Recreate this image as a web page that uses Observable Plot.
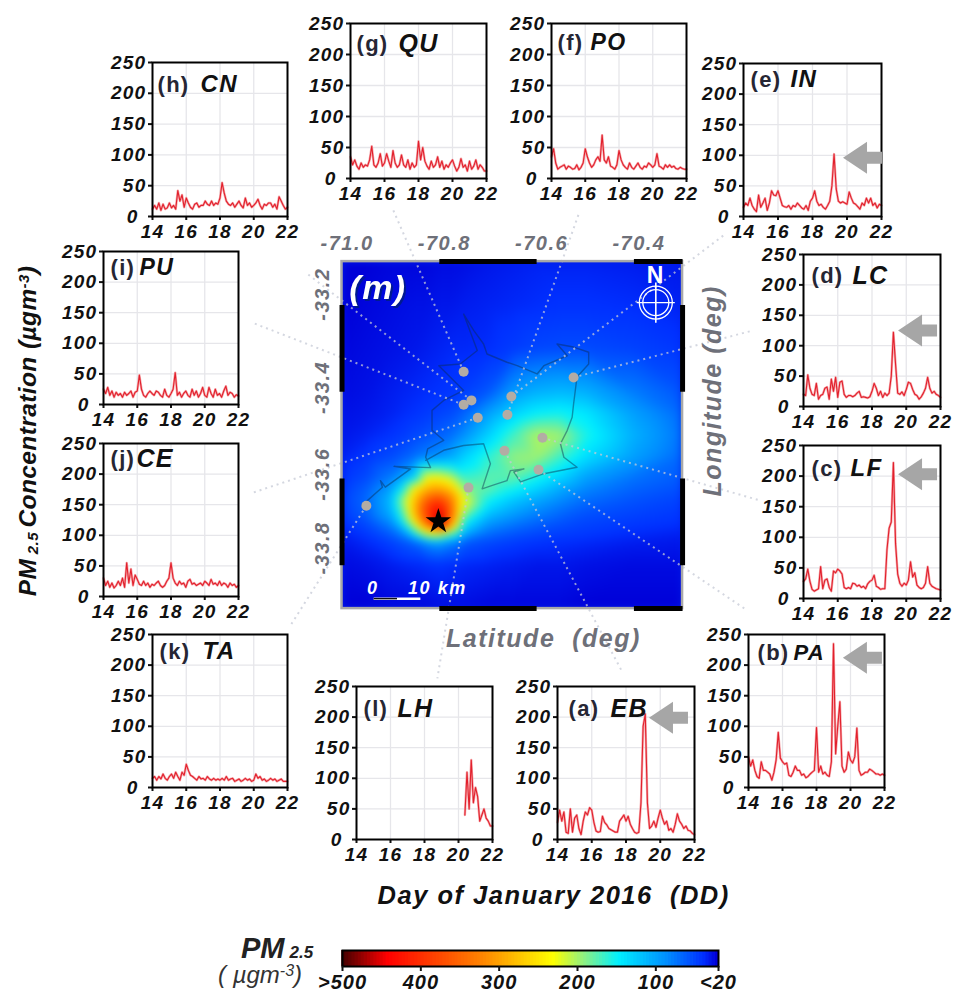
<!DOCTYPE html>
<html><head><meta charset="utf-8">
<script src="https://cdn.jsdelivr.net/npm/d3@7"></script>
<script src="https://cdn.jsdelivr.net/npm/@observablehq/plot@0.6"></script>
<style>
html,body{margin:0;padding:0;background:#fff;width:955px;height:995px;overflow:hidden}
#page{position:relative;width:955px;height:995px;font-family:"Liberation Sans",Arial,sans-serif}
#page svg{position:absolute;max-width:none}
.t{position:absolute;white-space:nowrap;font-weight:bold;font-style:italic;color:#111;line-height:1}
</style></head><body><div id="page"></div>
<script>
// ---- PM2.5 series, every 3 h from 14 Jan 00h to 22 Jan 00h ----
const seriesEB=[28,48,30,45,12,10,50,12, 35,40,18,8,30,45,40,52, 48,28,14,12,13,38,28,24, 18,16,14,12,12,30,35,40, 30,38,25,18,12,10,12,60, 185,205,60,18,22,30,20,35, 48,35,25,30,15,18,12,25, 42,30,25,18,22,15,14,10, 8];
const seriesPA=[50,35,45,28,18,15,42,28, 28,25,22,12,25,45,90,48, 42,38,40,20,18,25,35,28, 28,20,22,16,18,22,25,28, 98,25,35,22,25,20,18,42, 235,55,100,140,35,25,30,58, 45,40,50,97,28,20,22,25, 25,30,28,25,22,22,20,22, 20];
const seriesLF=[28,32,48,28,15,12,14,16, 52,16,30,32,18,12,45,42, 48,45,40,18,16,18,16,25, 24,20,22,18,20,16,24,28, 30,38,20,18,15,16,16,80, 115,125,222,90,40,25,20,25, 22,30,60,35,42,22,18,16, 18,25,52,25,20,18,16,15, 14];
const seriesLC=[20,18,52,30,20,18,38,12, 18,20,30,32,12,45,25,48, 15,40,42,20,15,18,18,16, 18,22,25,15,16,15,14,16, 25,38,30,18,25,15,22,18, 22,50,122,70,22,20,24,18, 28,40,38,28,20,18,12,16, 22,30,48,30,22,25,20,18, 15];
const seriesIN=[15,22,18,30,18,12,8,35, 15,22,30,10,22,42,35,34, 42,30,18,16,15,18,12,18, 16,22,18,14,12,18,10,25, 30,42,25,18,20,15,12,18, 25,50,102,45,25,22,24,22, 20,40,30,22,20,16,12,22, 18,30,22,30,18,22,14,20, 18];
const seriesPO=[35,48,25,15,18,20,22,15, 20,18,15,16,22,14,18,25, 48,35,25,18,22,30,35,28, 70,30,25,35,20,18,15,22, 45,30,22,18,15,25,18,15, 20,25,18,15,20,18,25,22, 18,22,40,20,18,15,22,18, 22,18,20,16,15,18,16,15, 15];
const seriesQU=[35,22,30,20,15,25,18,22, 20,30,52,22,18,25,40,20, 25,40,28,18,45,25,18,22, 38,22,18,30,15,25,18,22, 60,30,50,28,20,15,28,18, 22,35,18,28,15,22,18,25, 30,20,12,18,32,18,22,12, 28,15,20,30,15,22,18,12, 12];
const seriesCN=[12,18,12,22,10,20,12,14, 22,14,18,12,42,25,35,15, 30,22,15,12,20,22,15,18, 18,25,20,18,25,18,22,20, 30,55,38,25,20,18,22,15, 20,25,18,14,30,18,22,15, 18,22,28,18,12,20,18,22, 22,15,20,12,32,25,18,12, 15];
const seriesPU=[25,18,28,15,22,12,20,15, 18,12,20,15,18,22,12,20, 22,48,25,15,12,18,22,18, 15,22,20,15,12,25,15,12, 18,25,52,15,20,12,18,22, 15,12,25,15,22,12,18,28, 15,12,28,18,12,25,15,18, 12,22,30,15,20,18,12,16, 14];
const seriesCE=[30,18,25,15,22,14,18,25, 18,30,15,55,22,45,18,35, 28,20,18,25,18,22,15,20, 18,22,25,18,15,18,25,30, 55,30,22,18,25,20,22,15, 25,28,20,22,18,20,22,18, 25,22,18,28,20,22,18,25, 18,22,20,15,22,18,20,15, 18];
const seriesTA=[15,18,12,18,14,22,15,12, 18,22,15,25,18,12,25,20, 38,28,20,18,15,12,18,14, 15,12,18,14,12,15,12,14, 12,15,12,18,12,14,15,10, 12,14,10,12,15,12,14,10, 12,22,15,18,12,14,10,12, 15,12,14,10,12,14,10,10, 10];
const seriesLH=[null,null,null,null,null,null,null,null, null,null,null,null,null,null,null,null, null,null,null,null,null,null,null,null, null,null,null,null,null,null,null,null, null,null,null,null,null,null,null,null, null,null,null,null,null,null,null,null, null,null,null,40,110,50,130,60, 85,70,30,40,50,35,30,22, 22];
const hoursStep=3;
const xTicks=[14,16,18,20,22], yTicks=[50,100,150,200,250];

// ---- Map field: PM2.5 at these lon/lat nodes ----
const gridLons=[-71,-70.95,-70.9,-70.875,-70.85,-70.825,-70.8,-70.775,-70.75,-70.7,-70.65,-70.6,-70.55,-70.5,-70.4,-70.3];
const gridLats=[-33.1,-33.2,-33.3,-33.4,-33.45,-33.5,-33.55,-33.6,-33.625,-33.65,-33.675,-33.7,-33.725,-33.75,-33.8,-33.9];
const gridValues=[
[20,20,22,22,22,22,24,24,25,28,30,32,32,32,30,28],
[20,22,24,25,26,26,28,28,30,32,34,36,38,38,36,32],
[22,24,26,27,28,30,32,34,34,36,42,48,50,50,46,40],
[24,26,30,32,34,36,38,40,44,56,90,105,110,105,75,55],
[26,28,32,35,38,42,46,50,62,95,125,145,150,140,95,65],
[28,32,38,42,48,54,60,68,85,125,165,200,195,155,105,70],
[32,40,50,58,68,78,88,100,125,160,190,195,165,135,95,65],
[38,50,75,100,135,235,235,210,165,175,175,150,125,95,70,58],
[42,60,95,145,250,290,300,275,195,175,150,125,100,80,62,52],
[45,65,110,195,280,360,390,330,230,150,120,100,82,68,54,46],
[42,62,105,175,290,390,445,350,205,125,100,82,68,56,48,42],
[38,52,85,145,250,370,500,320,155,95,78,65,55,48,42,38],
[32,42,62,85,155,240,250,185,110,70,58,50,45,42,36,32],
[28,34,44,52,60,80,90,75,56,48,42,38,36,34,30,28],
[24,26,30,32,34,36,38,36,34,32,30,28,28,26,24,24],
[20,20,22,22,22,22,24,24,24,22,22,22,22,20,20,20]];
const colorDomain=[20,37,85,145,190,229,323,440,500];
const colorRange=["#0000d8","#0030ff","#0090ff","#00f0ff","#90f080","#ffff00","#ff8000","#ff0000","#3c0000"];

// ---- Stations (lon, lat), star, city outline ----
const stationLon=[-70.750,-70.734,-70.750,-70.652,-70.660,-70.721,-70.524,-70.588,-70.666,-70.596,-70.740,-70.950];
const stationLat=[-33.354,-33.420,-33.430,-33.411,-33.453,-33.460,-33.367,-33.506,-33.536,-33.580,-33.621,-33.663];
const fireLon=-70.802, fireLat=-33.699;
const outlineLon=[-70.959,-70.917,-70.921,-70.911,-70.859,-70.893,-70.818,-70.828,-70.824,-70.791,-70.815,-70.815,-70.791,-70.750,-70.801,-70.757,-70.722,-70.750,-70.729,-70.709,-70.702,-70.661,-70.640,-70.599,-70.585,-70.537,-70.558,-70.524,-70.493,-70.493,-70.517,-70.524,-70.527,-70.537,-70.551,-70.544,-70.517,-70.585,-70.633,-70.647,-70.626,-70.654,-70.661,-70.691,-70.712,-70.695,-70.709,-70.750,-70.791,-70.828];
const outlineLat=[-33.662,-33.620,-33.605,-33.620,-33.578,-33.572,-33.575,-33.551,-33.532,-33.512,-33.489,-33.443,-33.420,-33.397,-33.340,-33.336,-33.305,-33.221,-33.259,-33.290,-33.313,-33.332,-33.340,-33.359,-33.340,-33.317,-33.290,-33.297,-33.309,-33.336,-33.366,-33.428,-33.459,-33.489,-33.520,-33.551,-33.574,-33.589,-33.608,-33.585,-33.578,-33.582,-33.605,-33.616,-33.624,-33.566,-33.520,-33.524,-33.535,-33.558];
// leader lines: station index -> far end of the dotted line
const leaderFrom=[1,0,4,3,6,7,9,8,10,11,5,2];
const leaderLon=[-71.075,-70.896,-70.514,-70.214,-70.156,-70.140,-70.170,-70.423,-70.804,-71.106,-71.184,-71.184];
const leaderLat=[-33.125,-32.978,-32.992,-33.038,-33.259,-33.651,-33.902,-34.048,-34.061,-33.939,-33.633,-33.241];
const lonLabels=["-71.0","-70.8","-70.6","-70.4"], lonLabelAt=[-71,-70.8,-70.6,-70.4];
const latLabels=["-33.2","-33.4","-33.6","-33.8"], latLabelAt=[-33.175,-33.39,-33.59,-33.76];

// ---- Panel table ----
const panels=[
 {tag:"(a)",name:"EB",s:seriesEB,l:557,t:686,w:137,h:153,a:[20.48,199],lx:11,ly:22,nx:53,fs:25},
 {tag:"(b)",name:"PA",s:seriesPA,l:748,t:634,w:136,h:153,a:[20.7,212],lx:9,ly:18,nx:45,fs:22},
 {tag:"(c)",name:"LF",s:seriesLF,l:803,t:445,w:137,h:153,a:[20.66,203],lx:8,ly:23,nx:47,fs:24},
 {tag:"(d)",name:"LC",s:seriesLC,l:803,t:254,w:137,h:152,a:[20.66,125],lx:8,ly:21,nx:49,fs:25},
 {tag:"(e)",name:"IN",s:seriesIN,l:743,t:63,w:138,h:153,a:[20.9,96],lx:7,ly:16,nx:47,fs:24},
 {tag:"(f)",name:"PO",s:seriesPO,l:551,t:23,w:135,h:155,lx:6,ly:19,nx:39,fs:23},
 {tag:"(g)",name:"QU",s:seriesQU,l:350,t:23,w:136,h:155,lx:6,ly:20,nx:48,fs:25},
 {tag:"(h)",name:"CN",s:seriesCN,l:152,t:62,w:135,h:154,lx:5,ly:22,nx:48,fs:24},
 {tag:"(i)",name:"PU",s:seriesPU,l:103,t:251,w:135,h:153,lx:7,ly:16,nx:36,fs:23},
 {tag:"(j)",name:"CE",s:seriesCE,l:103,t:443,w:135,h:153,lx:7,ly:15,nx:33,fs:25},
 {tag:"(k)",name:"TA",s:seriesTA,l:152,t:634,w:135,h:153,lx:7,ly:17,nx:50,fs:24},
 {tag:"(l)",name:"LH",s:seriesLH,l:356,t:686,w:136,h:153,lx:7,ly:22,nx:41,fs:25}
];

const page=document.getElementById("page");
const FONT='"Liberation Sans",Arial,sans-serif';
const colorScale={type:"linear",domain:colorDomain,range:colorRange};
const blockArrow={draw(c){c.moveTo(-19.5,0);c.lineTo(4.5,-16);c.lineTo(4.5,-6);c.lineTo(19.5,-6);c.lineTo(19.5,6);c.lineTo(4.5,6);c.lineTo(4.5,16);c.closePath();}};

function place(el,left,top){el.style.left=left+"px";el.style.top=top+"px";page.appendChild(el);}

// ---- Background plot: one lon/lat scale spanning the page, so the dotted leaders can run to the panels ----
const gridCells=gridLats.flatMap((lat,i)=>gridLons.map((lon,j)=>({lon,lat,v:gridValues[i][j]})));
const stations=stationLon.map((lon,i)=>({lon,lat:stationLat[i]}));
const outline=outlineLon.map((lon,i)=>({lon,lat:outlineLat[i]}));
const leaders=leaderLon.map((lon,i)=>({lon1:stations[leaderFrom[i]].lon,lat1:stations[leaderFrom[i]].lat,lon2:lon,lat2:leaderLat[i]}));
const bars=[
 [-70.8,-33.1,-70.6,-33.1],[-70.4,-33.1,-70.3,-33.1],[-70.8,-33.9,-70.6,-33.9],[-70.4,-33.9,-70.3,-33.9],
 [-71,-33.2,-71,-33.4],[-71,-33.6,-71,-33.8],[-70.3,-33.2,-70.3,-33.4],[-70.3,-33.6,-70.3,-33.8]
].map(([a,b,c,d])=>({a,b,c,d}));
const gray="#6e7079";
const mapLabel={fontFamily:FONT,fontWeight:"bold",fontStyle:"italic"};
const bg=Plot.plot({
  width:955,height:995,margin:0,
  x:{domain:[-71.702,-69.739],axis:null},
  y:{domain:[-34.792,-32.498],axis:null},
  color:colorScale,
  style:{background:"transparent",letterSpacing:"1.5px"},
  marks:[
    Plot.rect([0],{x1:()=>-71,x2:()=>-70.3,y1:()=>-33.9,y2:()=>-33.1,fill:"#0020e8"}),
    Plot.raster(gridCells,{x:"lon",y:"lat",fill:"v",x1:-71,x2:-70.3,y1:-33.9,y2:-33.1,interpolate:"barycentric",pixelSize:2}),
    Plot.line(outline,{x:"lon",y:"lat",stroke:"#0c2c50",strokeOpacity:0.45,strokeWidth:1.4}),
    Plot.link(leaders,{x1:"lon1",y1:"lat1",x2:"lon2",y2:"lat2",stroke:"#c6cad6",strokeOpacity:0.75,strokeWidth:2,strokeDasharray:"2,4"}),
    Plot.dot(stations,{x:"lon",y:"lat",r:5,fill:"#b3aca4"}),
    Plot.dot([0],{x:()=>fireLon,y:()=>fireLat,symbol:"star",r:8,fill:"#000"}),
    Plot.rect([0],{x1:()=>-71,x2:()=>-70.3,y1:()=>-33.9,y2:()=>-33.1,fill:"none",stroke:"#a8a8a8",strokeWidth:2.5}),
    Plot.link(bars,{x1:"a",y1:"b",x2:"c",y2:"d",stroke:"#000",strokeWidth:5}),
    Plot.text(lonLabels,{x:(d,i)=>lonLabelAt[i],y:()=>-33.1,dx:5,dy:-18,text:d=>d,fill:gray,fontSize:20,...mapLabel}),
    Plot.text(latLabels,{x:()=>-71,y:(d,i)=>latLabelAt[i],dx:-19,text:d=>d,rotate:-90,fill:gray,fontSize:20,...mapLabel}),
    Plot.text(["(m)"],{className:"mlabel",x:()=>-70.985,y:()=>-33.16,text:d=>d,textAnchor:"start",fill:"#fff",fontSize:34,...mapLabel}),
    Plot.text(["N"],{x:()=>-70.355,y:()=>-33.132,text:d=>d,fill:"#fff",fontSize:23,fontFamily:FONT,fontWeight:"bold"}),
    Plot.dot([0],{x:()=>-70.355,y:()=>-33.1945,r:16.5,stroke:"#fff",strokeWidth:1.3,fill:"none"}),
    Plot.dot([0],{x:()=>-70.355,y:()=>-33.1945,r:13,stroke:"#fff",strokeWidth:1.3,fill:"none"}),
    Plot.link([0],{x1:()=>-70.394,x2:()=>-70.316,y1:()=>-33.1945,y2:()=>-33.1945,stroke:"#fff",strokeWidth:1.2}),
    Plot.link([0],{x1:()=>-70.355,x2:()=>-70.355,y1:()=>-33.241,y2:()=>-33.148,stroke:"#fff",strokeWidth:1.6}),
    Plot.text(["0"],{x:()=>-70.937,y:()=>-33.852,text:d=>d,fill:"#fff",fontSize:18,...mapLabel}),
    Plot.text(["10 km"],{x:()=>-70.804,y:()=>-33.852,text:d=>d,fill:"#fff",fontSize:18,...mapLabel}),
    Plot.link([0],{x1:()=>-70.935,x2:()=>-70.839,y1:()=>-33.877,y2:()=>-33.877,stroke:"#fff",strokeWidth:2.5}),
    Plot.link([0],{x1:()=>-70.935,x2:()=>-70.887,y1:()=>-33.877,y2:()=>-33.877,stroke:"#111",strokeWidth:1.5}),
    Plot.text(["Latitude  (deg)"],{x:()=>-70.586,y:()=>-33.969,text:d=>d,fill:gray,fontSize:25,...mapLabel}),
    Plot.text(["Longitude (deg)"],{x:()=>-70.238,y:()=>-33.398,text:d=>d,rotate:-90,fill:gray,fontSize:25,...mapLabel}),
    Plot.text(["Day of January 2016  (DD)"],{x:()=>-70.565,y:()=>-34.562,text:d=>d,fill:"#111",fontSize:25.5,...mapLabel})
  ]
});
place(bg,0,0);
bg.querySelectorAll("image").forEach(im=>{im.style.filter="blur(4px)";im.style.clipPath="inset(0)";});
bg.querySelectorAll(".mlabel text").forEach(t=>{t.style.filter="drop-shadow(2px 2px 0 #001a90)";});

// ---- Time-series panels ----
const ML=50,MR=14,MT=12,MB=30;
for(const p of panels){
  const rows=p.s.map((v,i)=>({day:14+i*hoursStep/24,v}));
  const marks=[
    Plot.ruleX([16,18,20],{stroke:"#e6e6ea",strokeWidth:1.3}),
    Plot.ruleY([50,100,150,200],{stroke:"#e6e6ea",strokeWidth:1.3}),
    Plot.line(rows,{x:"day",y:"v",stroke:"#f5a8ac",strokeWidth:2.4}),
    Plot.line(rows,{x:"day",y:"v",stroke:"#e2202c",strokeWidth:1.1}),
    Plot.axisX({ticks:xTicks,tickSize:4,tickPadding:4,strokeWidth:2,label:null,tickFormat:String}),
    Plot.axisY({ticks:yTicks,tickSize:4,tickPadding:2,strokeWidth:2,label:null,tickFormat:String}),
    Plot.axisY({ticks:[0],tickSize:4,tickPadding:10,strokeWidth:2,label:null,tickFormat:String}),
    Plot.frame({stroke:"#000",strokeWidth:2}),
    Plot.text([p.tag],{frameAnchor:"top-left",dx:p.lx,dy:p.ly,lineAnchor:"middle",textAnchor:"start",text:d=>d,fontSize:22,fontStyle:"normal",fill:"#262634",fontWeight:"bold"}),
    Plot.text([p.name],{frameAnchor:"top-left",dx:p.nx,dy:p.ly,lineAnchor:"middle",textAnchor:"start",text:d=>d,fontSize:p.fs,fontStyle:"italic",fill:"#111",fontWeight:"bold"})
  ];
  if(p.a) marks.push(Plot.dot([p.a],{x:d=>d[0],y:d=>d[1],symbol:blockArrow,r:5,fill:"#a6a6a6"}));
  const svg=Plot.plot({
    width:p.w+ML+MR,height:p.h+MT+MB,marginLeft:ML,marginRight:MR,marginTop:MT,marginBottom:MB,
    x:{domain:[14,22],axis:null},y:{domain:[0,250],axis:null},
    style:{background:"transparent",fontFamily:FONT,fontSize:"19px",fontWeight:"bold",fontStyle:"italic",letterSpacing:"1.3px",color:"#111"},
    marks
  });
  place(svg,p.l-ML,p.t-MT);
}

// ---- Colour bar ----
const barValues=d3.range(20,500,4);
const barTicks=[500,400,300,200,100,20];
const barLabels=[">500","400","300","200","100","<20"];
const barSvg=Plot.plot({
  width:376+80,height:47,marginLeft:40,marginRight:40,marginTop:2,marginBottom:29,
  x:{domain:[500,20],axis:null},y:{domain:[0,1],axis:null},
  color:colorScale,
  style:{background:"transparent",fontFamily:FONT,fontSize:"20px",fontWeight:"bold",fontStyle:"italic",letterSpacing:"1px",color:"#111"},
  marks:[
    Plot.rect(barValues,{x1:d=>d,x2:d=>d+5,y1:()=>0,y2:()=>1,fill:d=>d}),
    Plot.frame({stroke:"#000",strokeWidth:2}),
    Plot.axisX({ticks:barTicks,tickSize:5,tickPadding:3,strokeWidth:2,label:null,tickFormat:(d,i)=>barLabels[barTicks.indexOf(d)]})
  ]
});
place(barSvg,342-40,948);

// ---- HTML titles with sub/superscripts ----
function html(str,css){const d=document.createElement("div");d.className="t";d.innerHTML=str;Object.assign(d.style,css);page.appendChild(d);return d;}
html('PM<span style="font-size:15px;position:relative;top:2px"> 2.5 </span>Concentration (µgm<span style="font-size:15px;position:relative;top:-7px">-3</span>)',
  {left:"28px",top:"431px",fontSize:"24.5px",transform:"translate(-50%,-50%) rotate(-90deg)",letterSpacing:"0.4px"});
html('PM<span style="font-size:17px;margin-left:5px">2.5</span>',{left:"241px",top:"934px",fontSize:"29px",color:"#222"});
html('( µgm<span style="font-size:16px;position:relative;top:-7px">-3</span>)',{left:"218px",top:"963px",fontSize:"24px",fontWeight:"normal",color:"#333"});
</script></body></html>
